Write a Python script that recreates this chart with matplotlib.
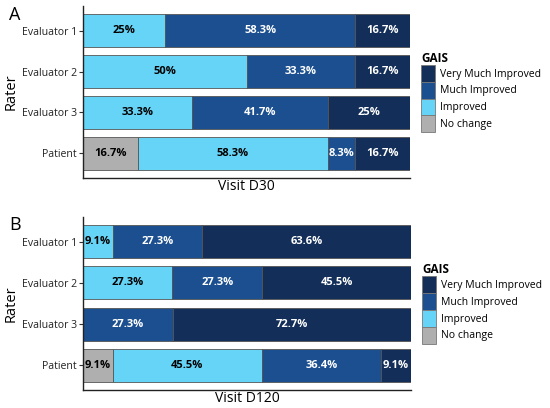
import numpy as np
import matplotlib
matplotlib.use("Agg")
import matplotlib.pyplot as plt
from matplotlib.patches import Patch

plt.rcParams['font.family'] = ['Open Sans', 'DejaVu Sans']

raters = ['Evaluator 1', 'Evaluator 2', 'Evaluator 3', 'Patient']
levels = ['No change', 'Improved', 'Much Improved', 'Very Much Improved']
colors = ['#afafaf', '#66d4f6', '#1b4f8f', '#132f59']
text_colors = ['black', 'black', 'white', 'white']

# percentages per rater, order = levels
d30 = [[0, 25, 58.3, 16.7],
       [0, 50, 33.3, 16.7],
       [0, 33.3, 41.7, 25],
       [16.7, 58.3, 8.3, 16.7]]
d120 = [[0, 9.1, 27.3, 63.6],
        [0, 27.3, 27.3, 45.5],
        [0, 0, 27.3, 72.7],
        [9.1, 45.5, 36.4, 9.1]]

W, H = 550, 408
fig = plt.figure(figsize=(W / 100, H / 100), dpi=100)


def panel(top, bottom, right, data, xlabel, letter):
    ax = fig.add_axes([83 / W, 1 - bottom / H, (right - 83) / W, (bottom - top) / H])
    for i, row in enumerate(data):
        row = np.array(row, dtype=float)
        frac = row / row.sum()
        left = 0
        for j in range(4):
            if row[j] > 0:
                ax.barh(i, frac[j], left=left, height=0.8, color=colors[j],
                        edgecolor='#555555', linewidth=0.6)
                lab = ('%g' % row[j]) + '%'
                ax.text(left + frac[j] / 2, i, lab, ha='center', va='center',
                        color=text_colors[j], fontsize=8, fontweight='bold')
            left += frac[j]
    ax.set_xlim(0, 1)
    ax.set_ylim(3.6, -0.6)
    ax.set_yticks(range(4))
    ax.set_yticklabels(raters, fontsize=7.6, color='#222222')
    ax.set_xticks([])
    ax.tick_params(axis='y', length=3, width=0.8, color='#333333', pad=1.5)
    for s in ['top', 'right']:
        ax.spines[s].set_visible(False)
    for s in ['left', 'bottom']:
        ax.spines[s].set_linewidth(1.0)
        ax.spines[s].set_color('#222222')
    ax.set_xlabel(xlabel, fontsize=10, labelpad=1)
    ax.set_ylabel('Rater', fontsize=10.5)
    ax.yaxis.set_label_coords(19 / W, 1 - (top + bottom) / 2 / H, transform=fig.transFigure)
    handles = [Patch(facecolor=colors[j], edgecolor='#777777', linewidth=0.6, label=levels[j])
               for j in [3, 2, 1, 0]]
    leg = ax.legend(handles=handles, title='GAIS', loc='center left',
                    bbox_to_anchor=(1.035, 0.5), frameon=False, fontsize=7.5,
                    handlelength=1.3, handleheight=2.1, labelspacing=0.0,
                    handletextpad=0.45, borderaxespad=0, borderpad=0)
    leg.get_title().set_fontweight('bold')
    leg.get_title().set_fontsize(8.5)
    leg._legend_box.align = 'left'
    fig.text(9 / W, 1 - (top + 8.5) / H, letter, fontsize=13, va='center', ha='left')
    return ax


panel(6, 178, 410, d30, 'Visit D30', 'A')
panel(217, 390, 411, d120, 'Visit D120', 'B')

fig.savefig('out.png', dpi=100)
